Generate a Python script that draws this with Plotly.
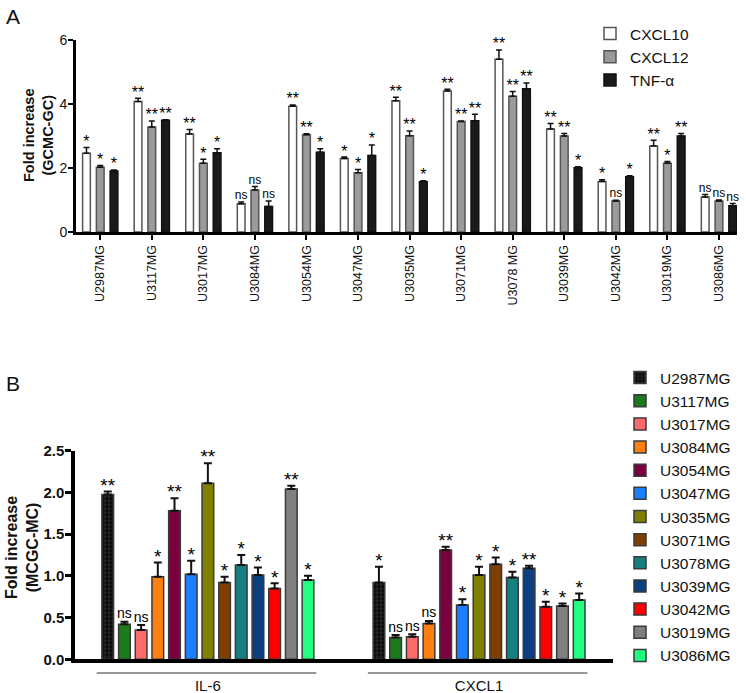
import plotly.graph_objects as go

FONT = "Arial, Liberation Sans, sans-serif"

# ---------- Panel A data ----------
cell_lines_a = ["U2987MG", "U3117MG", "U3017MG", "U3084MG", "U3054MG", "U3047MG", "U3035MG",
                "U3071MG", "U3078 MG", "U3039MG", "U3042MG", "U3019MG", "U3086MG"]
series_a = ["CXCL10", "CXCL12", "TNF-α"]
cxcl10 = [2.46, 4.08, 3.06, 0.88, 3.93, 2.30, 4.10, 4.41, 5.40, 3.22, 1.58, 2.69, 1.09]
cxcl10_err = [0.18, 0.10, 0.14, 0.06, 0.04, 0.04, 0.11, 0.05, 0.29, 0.17, 0.05, 0.18, 0.08]
cxcl12 = [2.02, 3.28, 2.15, 1.31, 3.04, 1.85, 3.01, 3.45, 4.24, 3.00, 0.97, 2.15, 0.97]
cxcl12_err = [0.06, 0.19, 0.12, 0.11, 0.03, 0.10, 0.15, 0.02, 0.15, 0.08, 0.02, 0.05, 0.03]
tnfa = [1.91, 3.49, 2.48, 0.80, 2.49, 2.39, 1.57, 3.48, 4.48, 2.01, 1.73, 3.00, 0.82]
tnfa_err = [0.03, 0.02, 0.12, 0.17, 0.11, 0.33, 0.03, 0.20, 0.18, 0.03, 0.03, 0.08, 0.07]
sig_cxcl10 = ["*", "**", "**", "ns", "**", "*", "**", "**", "**", "**", "*", "**", "ns"]
sig_cxcl12 = ["*", "**", "*", "ns", "**", "*", "**", "**", "**", "**", "ns", "*", "ns"]
sig_tnfa = ["*", "**", "*", "ns", "*", "*", "*", "**", "**", "*", "*", "**", "ns"]

# ---------- Panel B data ----------
genes_b = ["IL-6", "CXCL1"]
cell_lines_b = ["U2987MG", "U3117MG", "U3017MG", "U3084MG", "U3054MG", "U3047MG", "U3035MG",
                "U3071MG", "U3078MG", "U3039MG", "U3042MG", "U3019MG", "U3086MG"]
il6 = [1.976, 0.42, 0.35, 0.99, 1.78, 1.02, 2.11, 0.92, 1.13, 1.01, 0.85, 2.04, 0.95]
il6_err = [0.035, 0.03, 0.06, 0.17, 0.15, 0.16, 0.24, 0.07, 0.12, 0.09, 0.06, 0.04, 0.05]
cxcl1 = [0.92, 0.26, 0.27, 0.43, 1.31, 0.65, 1.01, 1.14, 0.98, 1.09, 0.63, 0.64, 0.71]
cxcl1_err = [0.19, 0.03, 0.03, 0.03, 0.04, 0.07, 0.10, 0.08, 0.07, 0.03, 0.06, 0.03, 0.08]
sig_il6 = ["**", "ns", "ns", "*", "**", "*", "**", "*", "*", "*", "*", "**", "*"]
sig_cxcl1 = ["*", "ns", "ns", "ns", "**", "*", "*", "*", "*", "**", "*", "*", "*"]
colors_b = ["#0a0a0a", "#1b7a1b", "#ff6b6b", "#ff8010", "#7a0040", "#1a80ff", "#808000",
            "#7f3f00", "#168080", "#0b3f80", "#ff0000", "#808080", "#22ff80"]


def sig_style(labels, star_size, ns_size):
    sizes = [star_size if "*" in s else ns_size for s in labels]
    pos = ["middle center" if "*" in s else "top center" for s in labels]
    return sizes, pos


def label_y(vals, errs, labels, pad):
    # asterisks sit a little above the error-bar cap
    return [v + e + (pad if "*" in s else 0) for v, e, s in zip(vals, errs, labels)]


fig = go.Figure()

# ---------- Panel A ----------
a_vals = [cxcl10, cxcl12, tnfa]
a_errs = [cxcl10_err, cxcl12_err, tnfa_err]
a_sigs = [sig_cxcl10, sig_cxcl12, sig_tnfa]
a_fill = ["#ffffff", "#9a9a9a", "#1a1a1a"]
a_line = ["#555555", "#555555", "#111111"]
for i, name in enumerate(series_a):
    fig.add_trace(go.Bar(
        x=cell_lines_a, y=a_vals[i], name=name, offsetgroup=str(i), width=0.15,
        marker=dict(color=a_fill[i], line=dict(color=a_line[i], width=1.5)),
        error_y=dict(type="data", array=a_errs[i], arrayminus=[0] * len(a_errs[i]),
                     symmetric=False, color="#111", thickness=1.5, width=3),
        xaxis="x", yaxis="y", legend="legend",
    ))
for i, name in enumerate(series_a):
    sizes, pos = sig_style(a_sigs[i], 16, 12)
    fig.add_trace(go.Scatter(
        x=cell_lines_a, y=label_y(a_vals[i], a_errs[i], a_sigs[i], 0.14), mode="text",
        text=a_sigs[i], offsetgroup=str(i),
        textposition=pos, textfont=dict(family=FONT, size=sizes, color="#000000"),
        showlegend=False, hoverinfo="skip", xaxis="x", yaxis="y", cliponaxis=False,
    ))

# ---------- Panel B ----------
for j, name in enumerate(cell_lines_b):
    marker = dict(color=colors_b[j], line=dict(color="#3a3a3a", width=1.5))
    if j == 0:
        marker["pattern"] = dict(shape=".", fgcolor="#444444", bgcolor="#0a0a0a",
                                 size=4, solidity=0.5)
    fig.add_trace(go.Bar(
        x=genes_b, y=[il6[j], cxcl1[j]], name=name, offsetgroup="b" + str(j),
        marker=marker,
        error_y=dict(type="data", array=[il6_err[j], cxcl1_err[j]], arrayminus=[0, 0],
                     symmetric=False, color="#111", thickness=2, width=4),
        xaxis="x2", yaxis="y2", legend="legend2",
    ))
for j, name in enumerate(cell_lines_b):
    labels = [sig_il6[j], sig_cxcl1[j]]
    sizes, pos = sig_style(labels, 19, 14)
    fig.add_trace(go.Scatter(
        x=genes_b, y=label_y([il6[j], cxcl1[j]], [il6_err[j], cxcl1_err[j]], labels, 0.055),
        mode="text", text=labels, offsetgroup="b" + str(j),
        textposition=pos, textfont=dict(family=FONT, size=sizes, color="#000000"),
        showlegend=False, hoverinfo="skip", xaxis="x2", yaxis="y2", cliponaxis=False,
    ))

W, H = 746, 693
def px(x):
    return x / W
def py(y):
    return 1 - y / H

axis_common = dict(showgrid=False, zeroline=False, showline=True, linecolor="black",
                   linewidth=3, ticks="outside", tickcolor="black", tickwidth=2, ticklen=5)

fig.update_layout(
    width=W, height=H, margin=dict(l=0, r=0, t=0, b=0, autoexpand=False),
    paper_bgcolor="white", plot_bgcolor="white",
    font=dict(family=FONT, color="#111"),
    barmode="group", bargap=0.2, bargroupgap=0.3,
    scattermode="group", scattergap=0.2,
    showlegend=True,
    xaxis=dict(domain=[px(76), px(737)], anchor="y", type="category",
               range=[-0.47, 12.35], tickangle=-90, automargin=False,
               tickfont=dict(family=FONT, size=12.5), **axis_common),
    yaxis=dict(domain=[py(232), py(40)], anchor="x", range=[0, 6], tickvals=[0, 2, 4, 6],
               automargin=False, tickfont=dict(family=FONT, size=14),
               ticklabelstandoff=-2, **axis_common),
    xaxis2=dict(domain=[px(75), px(613)], anchor="y2", type="category",
                range=[-0.49, 1.494], showgrid=False, zeroline=False, showline=True,
                linecolor="black", linewidth=3.5, ticks="", automargin=False,
                tickfont=dict(family=FONT, size=15), ticklabelstandoff=10),
    yaxis2=dict(domain=[py(659.3), py(450.7)], anchor="x2", range=[0, 2.5],
                tickvals=[0, 0.5, 1.0, 1.5, 2.0, 2.5], tickformat=".1f", automargin=False,
                tickfont=dict(family=FONT, size=15, weight="bold"), ticklabelstandoff=-2,
                showgrid=False, zeroline=False, showline=True, linecolor="black",
                linewidth=3.5, ticks="outside", tickcolor="black", tickwidth=3, ticklen=6),
    legend=dict(x=px(590), y=py(17), xanchor="left", yanchor="top",
                font=dict(family=FONT, size=15.5), bgcolor="rgba(0,0,0,0)",
                itemwidth=30, tracegroupgap=0),
    legend2=dict(x=px(620), y=py(361), xanchor="left", yanchor="top",
                 font=dict(family=FONT, size=15.5), bgcolor="rgba(0,0,0,0)",
                 itemwidth=30, tracegroupgap=0),
)

# Panel letters and axis titles
fig.add_annotation(text="A", x=px(4), y=py(3), xref="paper", yref="paper",
                   xanchor="left", yanchor="top", showarrow=False,
                   font=dict(family=FONT, size=21))
fig.add_annotation(text="B", x=px(4), y=py(370), xref="paper", yref="paper",
                   xanchor="left", yanchor="top", showarrow=False,
                   font=dict(family=FONT, size=21))
fig.add_annotation(text="<b>Fold increase</b><br><b>(GCMC-GC)</b>", x=px(39), y=py(136),
                   xref="paper", yref="paper", textangle=-90, showarrow=False,
                   xanchor="center", yanchor="middle",
                   font=dict(family=FONT, size=14.5))
fig.add_annotation(text="<b>Fold increase</b><br><b>(MCGC-MC)</b>", x=px(22), y=py(548),
                   xref="paper", yref="paper", textangle=-90, showarrow=False,
                   xanchor="center", yanchor="middle",
                   font=dict(family=FONT, size=16))

# group underline bars for panel B
for idx, g in enumerate(genes_b):
    fig.add_shape(type="line", xref="x2", yref="paper", x0=idx - 0.41, x1=idx + 0.40,
                  y0=py(673), y1=py(673), line=dict(color="#333", width=1))

fig.write_html("out.html", config={"displayModeBar": False},
               post_script="document.body.style.margin='0';")
